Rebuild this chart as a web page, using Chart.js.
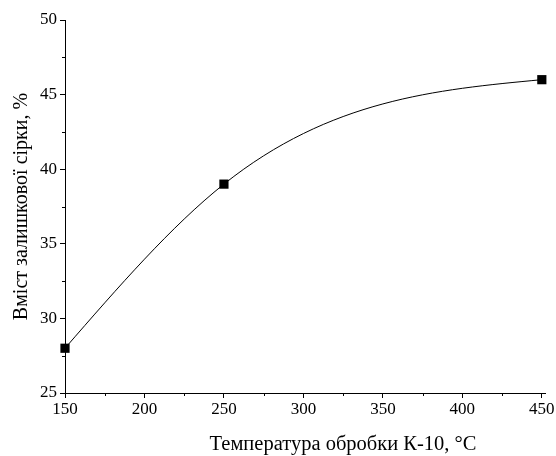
<!DOCTYPE html>
<html>
<head>
<meta charset="utf-8">
<script src="https://cdn.jsdelivr.net/npm/chart.js@4/dist/chart.umd.min.js"></script>
<style>
  html,body{margin:0;padding:0;background:#fff;}
  #wrap{width:556px;height:456px;}
</style>
</head>
<body>
<div id="wrap"><canvas id="c" width="556" height="456"></canvas></div>
<script>
/* ===== data ===== */
const temps   = [150, 250, 450];
const sulfur  = [28, 39, 46];
const xTicks  = [150, 200, 250, 300, 350, 400, 450];
const yTicks  = [25, 30, 35, 40, 45, 50];
const xTitle  = 'Температура обробки К-10, °C';
const yTitle  = 'Вміст залишкової сірки, %';

const FONT = "'Liberation Serif','Times New Roman',serif";

/* natural cubic spline slopes (data units) */
function splineSlopes(xs, ys){
  const n = xs.length, h = [], d = [];
  for (let i = 0; i < n - 1; i++){ h.push(xs[i+1] - xs[i]); d.push((ys[i+1] - ys[i]) / h[i]); }
  // solve tridiagonal for second derivatives, M0 = Mn-1 = 0
  const M = new Array(n).fill(0);
  if (n > 2){
    const a = [], b = [], c = [], r = [];
    for (let i = 1; i < n - 1; i++){
      a.push(h[i-1]); b.push(2 * (h[i-1] + h[i])); c.push(h[i]); r.push(6 * (d[i] - d[i-1]));
    }
    const m = b.length;
    for (let i = 1; i < m; i++){ const w = a[i] / b[i-1]; b[i] -= w * c[i-1]; r[i] -= w * r[i-1]; }
    const sol = new Array(m);
    sol[m-1] = r[m-1] / b[m-1];
    for (let i = m - 2; i >= 0; i--) sol[i] = (r[i] - c[i] * sol[i+1]) / b[i];
    for (let i = 0; i < m; i++) M[i+1] = sol[i];
  }
  const s = [];
  for (let i = 0; i < n - 1; i++) s.push(d[i] - h[i] * (2 * M[i] + M[i+1]) / 6);
  s.push(d[n-2] + h[n-2] * (M[n-2] + 2 * M[n-1]) / 6);
  return s;
}

/* set bezier control points of the line from the spline */
const splineLine = {
  id: 'splineLine',
  beforeDatasetsDraw(chart){
    const meta = chart.getDatasetMeta(0), {x, y} = chart.scales;
    const pts = meta.data, line = meta.dataset;
    line.updateControlPoints(chart.chartArea, 'x');
    const sl = splineSlopes(temps, sulfur);
    for (let i = 0; i < pts.length - 1; i++){
      const dx = (temps[i+1] - temps[i]) / 3;
      pts[i].cp2x = x.getPixelForValue(temps[i] + dx);
      pts[i].cp2y = y.getPixelForValue(sulfur[i] + sl[i] * dx);
      pts[i+1].cp1x = x.getPixelForValue(temps[i+1] - dx);
      pts[i+1].cp1y = y.getPixelForValue(sulfur[i+1] - sl[i+1] * dx);
    }
  }
};

/* minor ticks + x title */
const extras = {
  id: 'extras',
  afterDraw(chart){
    const {ctx, scales:{x, y}} = chart;
    ctx.save();
    ctx.strokeStyle = '#000'; ctx.lineWidth = 1;
    ctx.beginPath();
    for (let i = 0; i < xTicks.length - 1; i++){
      const px = Math.round(x.getPixelForValue((xTicks[i] + xTicks[i+1]) / 2)) + 0.5;
      ctx.moveTo(px, y.bottom); ctx.lineTo(px, y.bottom + 3);
    }
    for (let i = 0; i < yTicks.length - 1; i++){
      const py = Math.round(y.getPixelForValue((yTicks[i] + yTicks[i+1]) / 2)) + 0.5;
      ctx.moveTo(x.left, py); ctx.lineTo(x.left - 3, py);
    }
    ctx.stroke();
    ctx.fillStyle = '#000';
    ctx.font = '20.5px ' + FONT;
    ctx.textAlign = 'center'; ctx.textBaseline = 'alphabetic';
    ctx.fillText(xTitle, 343, 450);
    ctx.restore();
  }
};

new Chart(document.getElementById('c'), {
  type: 'line',
  data: {
    datasets: [{
      data: temps.map((t, i) => ({x: t, y: sulfur[i]})),
      borderColor: '#000',
      borderWidth: 1,
      tension: 0.4,
      capBezierPoints: false,
      pointStyle: 'rect',
      pointRadius: 6.5,
      pointBorderWidth: 0,
      pointBackgroundColor: '#000',
      pointBorderColor: '#000',
      clip: false
    }]
  },
  options: {
    responsive: false,
    animation: false,
    layout: {padding: {top: 20, right: 11, left: 0, bottom: 0}},
    plugins: {legend: {display: false}, tooltip: {enabled: false}},
    scales: {
      x: {
        type: 'linear', min: 150, max: 452,
        afterBuildTicks: s => { s.ticks = xTicks.map(v => ({value: v})); },
        afterFit: s => { s.height = 63; },
        border: {color: '#000', width: 1},
        grid: {display: true, drawOnChartArea: false, tickLength: 5, color: '#000'},
        ticks: {color: '#000', font: {family: FONT, size: 17}, padding: 1, maxRotation: 0}
      },
      y: {
        type: 'linear', min: 25, max: 50,
        afterBuildTicks: s => { s.ticks = yTicks.map(v => ({value: v})); },
        afterFit: s => { s.width = 65; },
        border: {color: '#000', width: 1},
        grid: {display: true, drawOnChartArea: false, tickLength: 5, color: '#000'},
        title: {display: true, text: yTitle, color: '#000', font: {family: FONT, size: 20}, padding: {top: 10, bottom: 4}},
        ticks: {color: '#000', font: {family: FONT, size: 17}, padding: 3}
      }
    }
  },
  plugins: [splineLine, extras]
});
</script>
</body>
</html>
